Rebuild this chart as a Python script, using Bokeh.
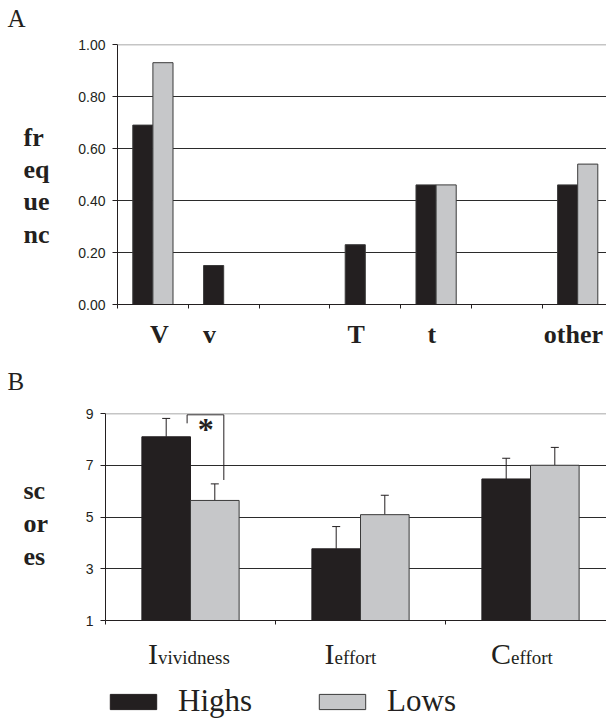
import numpy as np
from bokeh.plotting import figure
from bokeh.layouts import column, row
from bokeh.models import (FixedTicker, Label, Span, Whisker, TeeHead, Legend,
                          LegendItem, ColumnDataSource, NumeralTickFormatter)
from bokeh.core.properties import value
from bokeh.transform import dodge
from bokeh.embed import file_html
from bokeh.resources import INLINE

# ---------------- data ----------------
cats_A = ["V", "v", "", "T", "t", "", "other"]
highs_A = [0.69, 0.15, 0.0, 0.23, 0.46, 0.0, 0.46]
lows_A = [0.93, 0.0, 0.0, 0.0, 0.46, 0.0, 0.54]
yticks_A = [0.0, 0.2, 0.4, 0.6, 0.8, 1.0]
ytitle_A = ["fr", "eq", "ue", "nc"]

cats_B_main = ["I", "I", "C"]
cats_B_sub = ["vividness", "effort", "effort"]
highs_B = [8.10, 3.77, 6.47]
highs_B_err = [0.71, 0.86, 0.80]
lows_B = [5.64, 5.09, 7.00]
lows_B_err = [0.64, 0.75, 0.69]
yticks_B = [1, 3, 5, 7, 9]
ytitle_B = ["sc", "or", "es"]
series = ["Highs", "Lows"]
panels = ["A", "B"]

# ---------------- style / layout constants (page pixels) ----------------
BLACK = "#231f20"
GRAY = "#c6c7c9"
EDGE = "#3a3a3a"
GRID = "#2b2b2b"
TOPLINE = "#8c8c8c"
SERIF = "Liberation Serif"
SANS = "Liberation Sans"
W = 606
STRIP = 60           # left strip that carries the stacked y titles

# vertical bands: letter A | panel A | letter B | panel B | labels+legend
Y_A0, Y_PA0, Y_B0, Y_PB0, Y_L0, Y_END = 0, 30, 358, 395, 628, 718
A_FT, A_FB = 44, 304          # frame top / bottom of panel A
B_FT, B_FB = 413, 620         # frame top / bottom of panel B
A_L, A_SLOT = 117, 70.8       # frame left, pixels per category (A)
B_L, B_SLOT = 105, 170.0      # frame left, pixels per category (B)


def style_axes(p, yticks):
    p.outline_line_color = None
    p.background_fill_color = "white"
    p.border_fill_color = "white"
    p.xgrid.visible = False
    p.ygrid.ticker = FixedTicker(ticks=list(yticks[:-1]))
    p.ygrid.grid_line_color = GRID
    p.ygrid.grid_line_width = 1
    p.add_layout(Span(location=yticks[-1], dimension="width",
                      line_color=TOPLINE, line_width=1.5))
    ax = p.xaxis[0]
    ax.major_tick_out = 0
    ax.major_tick_in = 0
    ax.minor_tick_out = 4
    ax.minor_tick_in = 0
    ax.axis_line_color = BLACK
    ax.minor_tick_line_color = BLACK
    ay = p.yaxis[0]
    ay.ticker = FixedTicker(ticks=list(yticks))
    ay.major_tick_out = 5
    ay.major_tick_in = 0
    ay.minor_tick_line_color = None
    ay.axis_line_color = BLACK
    ay.major_tick_line_color = BLACK
    ay.major_label_text_font = SANS
    ay.major_label_text_font_size = "14px"
    ay.major_label_text_color = BLACK
    ay.major_label_standoff = 7


def blank(width, y0, y1, x_range=None, top=0, bottom=0):
    """figure used only to carry free text; y data = page pixel row"""
    s = figure(width=width, height=y1 - y0,
               x_range=x_range if x_range is not None else (0, width),
               y_range=(y1 - bottom, y0 + top),
               output_backend="svg", toolbar_location=None,
               x_axis_location=None, y_axis_location=None, min_border=0,
               min_border_top=top, min_border_bottom=bottom)
    s.grid.visible = False
    s.outline_line_color = None
    s.background_fill_color = "white"
    s.border_fill_color = "white"
    return s


def put_text(p, xs, ys, texts, size, bold=False, align="left", dy=-8,
             baseline="alphabetic"):
    p.text(x=list(xs), y=[y + dy for y in ys], text=list(texts),
           text_font=value(SERIF), text_font_size=value(size),
           text_font_style="bold" if bold else "normal",
           text_align=align, text_baseline=baseline, text_color=BLACK)


# ---------------- letter A ----------------
fa_letter = blank(W, Y_A0, Y_PA0)
put_text(fa_letter, [7], [4], [panels[0]], "25px", dy=0, baseline="top")

# ---------------- panel A ----------------
nA = len(cats_A)
xA0 = -0.5
xA1 = xA0 + (W - A_L) / A_SLOT
tA, bA = A_FT - Y_PA0, Y_B0 - A_FB
pa = figure(width=W - STRIP, height=Y_B0 - Y_PA0, x_range=(xA0, xA1), y_range=(0, 1),
            output_backend="svg", toolbar_location=None,
            min_border_left=A_L - STRIP, min_border_right=0,
            min_border_top=tA, min_border_bottom=bA)
style_axes(pa, yticks_A)
pa.yaxis[0].formatter = NumeralTickFormatter(format="0.00")

label_dx_A = [0.09, -0.2, 0, -0.13, -0.06, 0, -0.06]
lab_pos_A = [i + label_dx_A[i] for i, c in enumerate(cats_A) if c]
lab_txt_A = [c for c in cats_A if c]
axA = pa.xaxis[0]
axA.ticker = FixedTicker(ticks=lab_pos_A, minor_ticks=list(np.arange(nA + 1) - 0.5))
axA.major_label_overrides = {p_: t for p_, t in zip(lab_pos_A, lab_txt_A)}
axA.major_label_text_font = SERIF
axA.major_label_text_font_style = "bold"
axA.major_label_text_font_size = "26px"
axA.major_label_text_color = BLACK
axA.major_label_standoff = 11

srcA = ColumnDataSource(dict(x=np.arange(nA), highs=highs_A, lows=lows_A))
pa.vbar(x=dodge("x", -0.142, range=pa.x_range), top="highs", bottom=0,
        width=0.284, source=srcA, fill_color=BLACK, line_color=EDGE)
pa.vbar(x=dodge("x", 0.142, range=pa.x_range), top="lows", bottom=0,
        width=0.284, source=srcA, fill_color=GRAY, line_color=EDGE)

ta = blank(STRIP, Y_PA0, Y_B0, top=tA, bottom=bA)
put_text(ta, [23] * len(ytitle_A), [145 + 32.2 * k for k in range(len(ytitle_A))],
         ytitle_A, "26px", bold=True)

# ---------------- letter B ----------------
fb_letter = blank(W, Y_B0, Y_PB0)
put_text(fb_letter, [7], [367], [panels[1]], "25px", dy=0, baseline="top")

# ---------------- panel B ----------------
nB = len(highs_B)
xB0 = -0.5
xB1 = xB0 + (W - B_L) / B_SLOT
yB0, yB1 = 1, 9
tB, bB = B_FT - Y_PB0, Y_L0 - B_FB
pb = figure(width=W - STRIP, height=Y_L0 - Y_PB0, x_range=(xB0, xB1), y_range=(yB0, yB1),
            output_backend="svg", toolbar_location=None,
            min_border_left=B_L - STRIP, min_border_right=0,
            min_border_top=tB, min_border_bottom=bB)
style_axes(pb, yticks_B)
pb.xaxis[0].ticker = FixedTicker(ticks=[], minor_ticks=list(np.arange(nB + 1) - 0.5))

xi = np.arange(nB)
srcB = ColumnDataSource(dict(
    xh=xi - 0.143, xl=xi + 0.143,
    highs=highs_B, lows=lows_B,
    hu=np.array(highs_B) + np.array(highs_B_err),
    lu=np.array(lows_B) + np.array(lows_B_err)))
barH = dict(fill_color=BLACK, line_color=BLACK)
barL = dict(fill_color=GRAY, line_color=EDGE)
pb.vbar(x="xh", top="highs", bottom=yB0, width=0.286, source=srcB, **barH)
pb.vbar(x="xl", top="lows", bottom=yB0, width=0.286, source=srcB, **barL)
for base, low, up in (("xh", "highs", "hu"), ("xl", "lows", "lu")):
    pb.add_layout(Whisker(source=srcB, base=base, lower=low, upper=up,
                          lower_head=None,
                          upper_head=TeeHead(size=8, line_color=BLACK, line_width=1),
                          line_color=BLACK, line_width=1))

# significance bracket between Highs and Lows of the first category
sig_top = 8.95
pb.line(x=[-0.02, -0.02, 0.196, 0.196],
        y=[highs_B[0] + 0.52, sig_top, sig_top, lows_B_err[0] + lows_B[0] + 0.15],
        line_color=BLACK, line_width=1)
pb.add_layout(Label(x=0.09, y=8.41, text="*", text_font=SERIF,
                    text_font_size="32px", text_font_style="bold",
                    text_align="center", text_baseline="middle",
                    text_color=BLACK))

tb = blank(STRIP, Y_PB0, Y_L0, top=tB, bottom=bB)
put_text(tb, [23] * len(ytitle_B), [498 + 33 * k for k in range(len(ytitle_B))],
         ytitle_B, "26px", bold=True)

# ---------------- category labels + legend under panel B ----------------
xl0 = xB0 - B_L / B_SLOT
xl1 = xl0 + W / B_SLOT
lb = blank(W, Y_L0, Y_END, x_range=(xl0, xl1))


def bx(px):
    return xl0 + px / B_SLOT


anchor_B = [157.5, 334, 510.5]
put_text(lb, [bx(a) for a in anchor_B], [663.5] * nB, cats_B_main, "30px",
         align="right", dy=-11)
put_text(lb, [bx(a) for a in anchor_B], [667] * nB, cats_B_sub, "19px", dy=-10)

# legend swatches take their look from these bar renderers (no drawable data)
nan = [float("nan")]
lh = lb.vbar(x=nan, top=nan, bottom=nan, width=0.286, **barH)
ll = lb.vbar(x=nan, top=nan, bottom=nan, width=0.286, **barL)
legend = Legend(items=[LegendItem(label=series[0], renderers=[lh]),
                       LegendItem(label=series[1], renderers=[ll])],
                orientation="horizontal", location=(104, -1),
                glyph_width=58, glyph_height=19, label_standoff=16,
                spacing=61, padding=0, margin=0,
                border_line_color=None, background_fill_alpha=0,
                label_text_font=SERIF, label_text_font_size="31px",
                label_text_color=BLACK)
lb.add_layout(legend)

layout = column(fa_letter, row(ta, pa, spacing=0), fb_letter,
                row(tb, pb, spacing=0), lb, spacing=0)
open("out.html", "w").write(file_html(layout, INLINE, title="chart"))
